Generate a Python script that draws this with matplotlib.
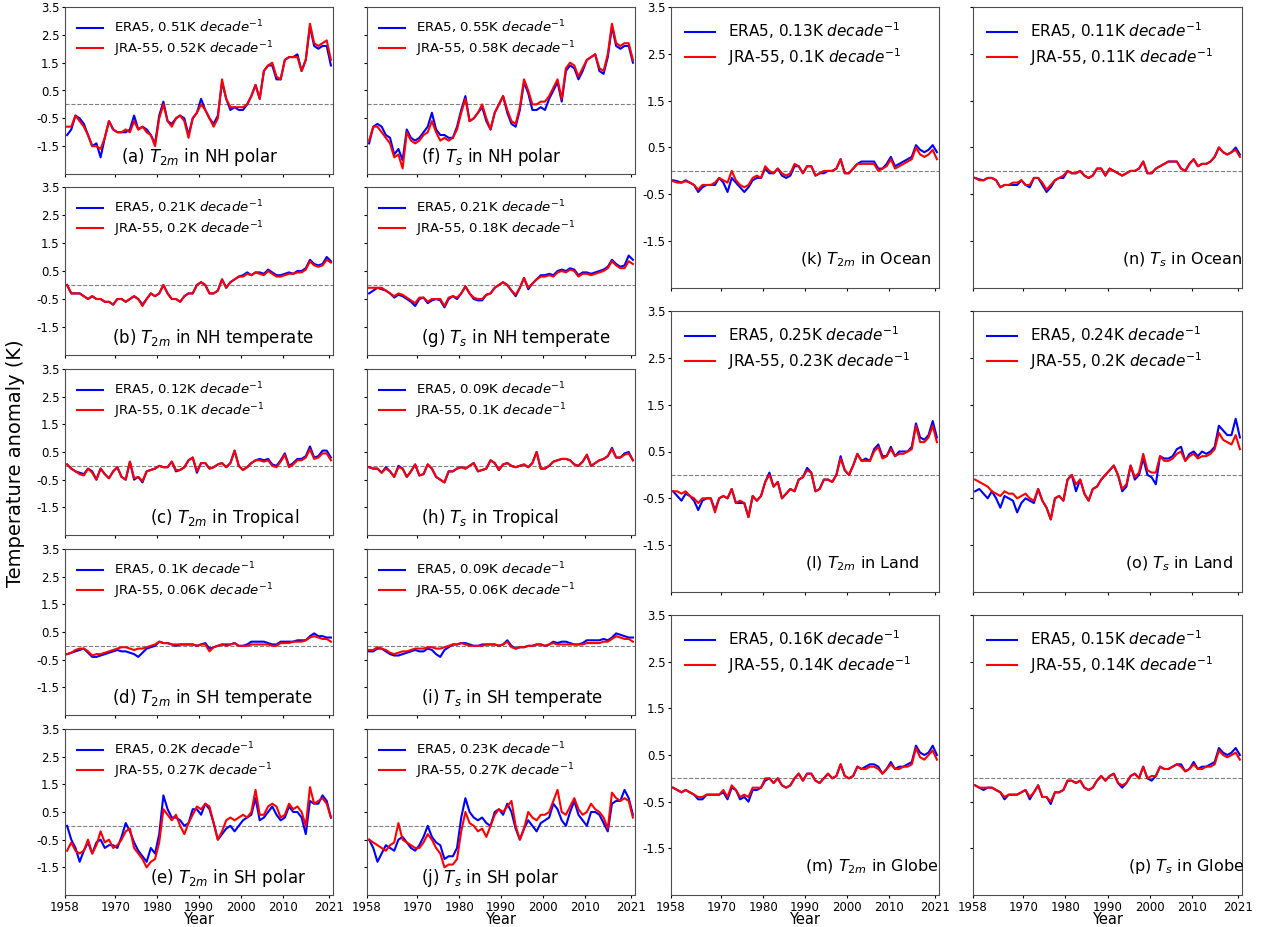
import numpy as np
import matplotlib
matplotlib.use('Agg')
import matplotlib.pyplot as plt

plt.rcParams['axes.unicode_minus'] = False

# annual values, 1958-2021
years = np.arange(1958, 2022)

era5_a = [-1.1, -0.9, -0.4, -0.5, -0.7, -1.1, -1.5, -1.4, -1.9, -1.2,
          -0.6, -0.9, -1.0, -1.0, -1.0, -0.9, -0.4, -0.9, -0.8, -0.9,
          -1.1, -1.4, -0.4, 0.1, -0.6, -0.7, -0.5, -0.4, -0.5, -1.1,
          -0.5, -0.3, 0.2, -0.2, -0.5, -0.7, -0.4, 0.8, 0.2, -0.2,
          -0.1, -0.2, -0.2, 0.0, 0.3, 0.7, 0.2, 1.2, 1.4, 1.4,
          0.9, 0.9, 1.6, 1.7, 1.7, 1.8, 1.2, 1.6, 2.8, 2.1,
          2.0, 2.1, 2.1, 1.4]
jra55_a = [-0.8, -0.8, -0.4, -0.6, -0.8, -1.1, -1.5, -1.5, -1.6, -1.2,
           -0.6, -0.9, -1.0, -1.0, -0.9, -1.0, -0.6, -0.9, -0.8, -1.0,
           -1.1, -1.5, -0.5, 0.0, -0.6, -0.8, -0.5, -0.4, -0.6, -1.2,
           -0.5, -0.3, 0.0, -0.2, -0.5, -0.8, -0.5, 0.9, 0.2, -0.1,
           -0.1, -0.1, -0.1, 0.0, 0.3, 0.7, 0.2, 1.2, 1.4, 1.5,
           1.0, 0.9, 1.6, 1.7, 1.7, 1.7, 1.2, 1.6, 2.9, 2.2,
           2.1, 2.2, 2.3, 1.6]

era5_b = [0.0, -0.3, -0.3, -0.3, -0.4, -0.5, -0.4, -0.5, -0.5, -0.6,
          -0.6, -0.7, -0.5, -0.5, -0.6, -0.5, -0.4, -0.5, -0.7, -0.5,
          -0.3, -0.4, -0.3, 0.0, -0.3, -0.5, -0.5, -0.6, -0.4, -0.3,
          -0.3, 0.0, 0.1, 0.0, -0.3, -0.3, -0.2, 0.2, -0.1, 0.1,
          0.2, 0.3, 0.35, 0.45, 0.35, 0.45, 0.45, 0.4, 0.55, 0.45,
          0.35, 0.35, 0.4, 0.45, 0.4, 0.5, 0.5, 0.6, 0.9, 0.75,
          0.7, 0.75, 1.0, 0.85]
jra55_b = [0.0, -0.3, -0.3, -0.3, -0.4, -0.5, -0.4, -0.5, -0.5, -0.6,
           -0.6, -0.7, -0.5, -0.5, -0.6, -0.5, -0.4, -0.5, -0.75, -0.5,
           -0.3, -0.4, -0.3, 0.0, -0.3, -0.5, -0.5, -0.6, -0.4, -0.3,
           -0.3, 0.0, 0.1, 0.0, -0.3, -0.3, -0.2, 0.2, -0.1, 0.1,
           0.2, 0.3, 0.3, 0.4, 0.35, 0.45, 0.4, 0.35, 0.5, 0.4,
           0.3, 0.3, 0.35, 0.4, 0.4, 0.45, 0.45, 0.55, 0.85, 0.7,
           0.65, 0.7, 0.9, 0.8]

era5_c = [0.05, -0.1, -0.2, -0.25, -0.3, -0.1, -0.2, -0.5, -0.1, -0.3,
          -0.45, -0.2, -0.05, -0.4, -0.5, 0.15, -0.5, -0.4, -0.6, -0.2,
          -0.15, -0.1, 0.0, -0.05, -0.05, 0.15, -0.2, -0.15, -0.05, 0.2,
          0.3, -0.25, 0.1, 0.1, -0.1, -0.05, 0.05, 0.1, -0.05, 0.1,
          0.55, 0.0, -0.15, -0.05, 0.1, 0.2, 0.25, 0.2, 0.25, 0.05,
          0.0, 0.2, 0.45, 0.0, 0.1, 0.25, 0.25, 0.35, 0.7, 0.3,
          0.35, 0.55, 0.55, 0.3]
jra55_c = [0.05, -0.1, -0.2, -0.3, -0.35, -0.1, -0.25, -0.5, -0.1, -0.3,
           -0.45, -0.2, -0.05, -0.4, -0.5, 0.15, -0.45, -0.4, -0.55, -0.2,
           -0.15, -0.1, 0.0, -0.05, -0.05, 0.15, -0.15, -0.15, -0.05, 0.2,
           0.3, -0.2, 0.1, 0.1, -0.1, -0.05, 0.05, 0.1, -0.05, 0.1,
           0.55, 0.0, -0.15, -0.05, 0.1, 0.2, 0.2, 0.15, 0.2, 0.0,
           -0.05, 0.15, 0.4, -0.05, 0.05, 0.2, 0.2, 0.3, 0.6, 0.25,
           0.3, 0.45, 0.45, 0.2]

era5_d = [-0.3, -0.25, -0.2, -0.15, -0.1, -0.25, -0.4, -0.4, -0.35, -0.3,
          -0.25, -0.2, -0.15, -0.2, -0.2, -0.25, -0.3, -0.4, -0.25, -0.1,
          -0.05, 0.0, 0.15, 0.1, 0.1, 0.05, 0.0, 0.05, 0.05, 0.05,
          0.05, 0.0, 0.05, 0.1, -0.1, -0.05, 0.0, 0.05, 0.05, 0.05,
          0.1, 0.0, 0.0, 0.05, 0.15, 0.15, 0.15, 0.15, 0.1, 0.05,
          0.05, 0.15, 0.15, 0.15, 0.15, 0.2, 0.2, 0.2, 0.35, 0.45,
          0.35, 0.35, 0.3, 0.3]
jra55_d = [-0.3, -0.25, -0.15, -0.1, -0.1, -0.2, -0.35, -0.3, -0.3, -0.25,
           -0.2, -0.15, -0.1, -0.05, -0.05, -0.1, -0.15, -0.1, -0.1, -0.05,
           0.0, 0.05, 0.15, 0.1, 0.1, 0.05, 0.05, 0.05, 0.05, 0.05,
           0.05, 0.0, 0.05, 0.05, -0.2, -0.05, 0.0, 0.05, 0.0, 0.05,
           0.1, 0.0, 0.0, 0.0, 0.05, 0.05, 0.05, 0.05, 0.05, 0.0,
           0.0, 0.1, 0.1, 0.1, 0.15, 0.15, 0.15, 0.2, 0.3, 0.35,
           0.3, 0.25, 0.25, 0.15]

era5_e = [0.0, -0.5, -0.8, -1.3, -0.9, -0.6, -1.0, -0.6, -0.5, -0.8,
          -0.7, -0.7, -0.8, -0.4, 0.1, -0.2, -0.6, -0.9, -1.1, -1.3,
          -0.8, -1.0, -0.3, 1.1, 0.6, 0.3, 0.3, 0.2, 0.0, 0.1,
          0.6, 0.6, 0.4, 0.8, 0.6, 0.1, -0.5, -0.3, -0.1, 0.0,
          -0.2, 0.0, 0.2, 0.3, 0.4, 1.0, 0.2, 0.3, 0.5, 0.7,
          0.4, 0.2, 0.3, 0.7, 0.5, 0.5, 0.3, -0.3, 0.9, 0.8,
          0.8, 1.1, 0.9, 0.3]
jra55_e = [-0.9, -0.6, -0.9, -1.0, -0.9, -0.5, -1.0, -0.7, -0.2, -0.6,
           -0.5, -0.8, -0.7, -0.5, -0.2, -0.1, -0.8, -1.0, -1.2, -1.5,
           -1.3, -1.2, -0.6, 0.6, 0.4, 0.2, 0.4, 0.0, -0.3, 0.1,
           0.4, 0.7, 0.6, 0.8, 0.7, 0.1, -0.5, -0.2, 0.2, 0.3,
           0.2, 0.3, 0.4, 0.3, 0.5, 1.3, 0.4, 0.4, 0.7, 0.8,
           0.7, 0.3, 0.4, 0.8, 0.6, 0.7, 0.5, 0.0, 1.4, 0.8,
           0.9, 1.0, 0.8, 0.3]

era5_f = [-1.4, -0.8, -0.7, -0.8, -1.1, -1.2, -1.8, -1.6, -2.0, -0.9,
          -1.2, -1.3, -1.2, -1.0, -0.8, -0.3, -0.9, -1.1, -1.1, -1.2,
          -1.2, -0.8, -0.2, 0.3, -0.6, -0.5, -0.3, -0.1, -0.6, -0.9,
          -0.3, 0.0, 0.3, -0.3, -0.7, -0.8, -0.2, 0.8, 0.4, -0.2,
          -0.2, -0.1, -0.2, 0.2, 0.5, 0.8, 0.1, 1.2, 1.4, 1.3,
          0.9, 1.2, 1.6, 1.7, 1.8, 1.2, 1.1, 1.7, 2.8, 2.1,
          2.0, 2.1, 2.1, 1.5]
jra55_f = [-1.3, -0.8, -0.8, -1.0, -1.2, -1.4, -1.9, -1.8, -2.3, -1.0,
           -1.3, -1.4, -1.3, -1.1, -1.0, -0.6, -1.0, -1.3, -1.2, -1.3,
           -1.2, -0.9, -0.3, 0.2, -0.6, -0.5, -0.3, 0.0, -0.5, -0.9,
           -0.3, 0.0, 0.3, -0.2, -0.6, -0.7, -0.1, 0.9, 0.5, 0.0,
           0.0, 0.1, 0.1, 0.3, 0.6, 0.9, 0.2, 1.3, 1.5, 1.4,
           1.0, 1.3, 1.6, 1.7, 1.8, 1.3, 1.2, 1.8, 2.9, 2.2,
           2.1, 2.2, 2.2, 1.6]

era5_g = [-0.3, -0.2, -0.1, -0.15, -0.2, -0.3, -0.45, -0.35, -0.4, -0.5,
          -0.6, -0.75, -0.5, -0.45, -0.65, -0.55, -0.5, -0.55, -0.8, -0.5,
          -0.4, -0.5, -0.3, -0.05, -0.3, -0.5, -0.55, -0.55, -0.35, -0.3,
          -0.1, 0.0, 0.1, 0.0, -0.2, -0.4, -0.1, 0.25, -0.15, 0.05,
          0.2, 0.35, 0.35, 0.4, 0.35, 0.5, 0.55, 0.5, 0.6, 0.55,
          0.35, 0.45, 0.45, 0.4, 0.45, 0.5, 0.55, 0.65, 0.9, 0.75,
          0.65, 0.7, 1.05, 0.9]
jra55_g = [-0.1, -0.1, -0.1, -0.1, -0.2, -0.3, -0.4, -0.3, -0.35, -0.45,
           -0.55, -0.65, -0.45, -0.45, -0.6, -0.5, -0.5, -0.5, -0.75, -0.45,
           -0.4, -0.45, -0.3, -0.05, -0.3, -0.45, -0.5, -0.5, -0.35, -0.3,
           -0.1, 0.0, 0.1, 0.0, -0.2, -0.35, -0.1, 0.25, -0.1, 0.05,
           0.2, 0.3, 0.3, 0.35, 0.3, 0.45, 0.5, 0.45, 0.55, 0.5,
           0.3, 0.4, 0.4, 0.35, 0.4, 0.45, 0.5, 0.6, 0.85, 0.7,
           0.6, 0.6, 0.85, 0.75]

era5_h = [-0.05, -0.1, -0.1, -0.25, -0.05, -0.2, -0.4, 0.0, -0.1, -0.4,
          -0.2, 0.05, -0.35, -0.3, 0.05, -0.1, -0.4, -0.5, -0.6, -0.2,
          -0.2, -0.1, -0.05, -0.1, 0.0, 0.1, -0.2, -0.15, -0.1, 0.2,
          0.1, -0.15, 0.05, 0.1, 0.0, -0.05, 0.0, 0.05, -0.05, 0.1,
          0.5, -0.1, -0.1, 0.0, 0.15, 0.2, 0.25, 0.25, 0.2, 0.05,
          0.0, 0.15, 0.4, 0.0, 0.1, 0.2, 0.25, 0.35, 0.65, 0.3,
          0.3, 0.45, 0.5, 0.2]
jra55_h = [-0.05, -0.1, -0.1, -0.25, -0.1, -0.2, -0.4, -0.05, -0.1, -0.4,
           -0.2, 0.05, -0.35, -0.3, 0.05, -0.1, -0.4, -0.5, -0.6, -0.2,
           -0.2, -0.1, -0.05, -0.1, 0.0, 0.1, -0.2, -0.15, -0.1, 0.2,
           0.1, -0.15, 0.05, 0.1, 0.0, -0.05, 0.0, 0.05, -0.05, 0.1,
           0.5, -0.1, -0.1, 0.0, 0.15, 0.2, 0.25, 0.25, 0.2, 0.05,
           0.0, 0.15, 0.4, 0.0, 0.1, 0.2, 0.25, 0.35, 0.6, 0.3,
           0.3, 0.4, 0.45, 0.2]

era5_i = [-0.2, -0.2, -0.1, -0.1, -0.2, -0.3, -0.35, -0.35, -0.3, -0.25,
          -0.2, -0.15, -0.2, -0.2, -0.1, -0.15, -0.3, -0.4, -0.15, -0.05,
          0.05, 0.05, 0.1, 0.1, 0.05, 0.0, 0.0, 0.05, 0.05, 0.05,
          0.05, 0.0, 0.05, 0.2, 0.0, -0.1, -0.05, -0.05, 0.0, 0.0,
          0.05, 0.05, 0.0, 0.05, 0.15, 0.1, 0.15, 0.15, 0.1, 0.05,
          0.05, 0.1, 0.2, 0.2, 0.2, 0.2, 0.25, 0.2, 0.3, 0.45,
          0.4, 0.35, 0.3, 0.3]
jra55_i = [-0.15, -0.15, -0.05, -0.1, -0.15, -0.25, -0.3, -0.25, -0.2, -0.2,
           -0.15, -0.1, -0.1, -0.1, -0.05, -0.05, -0.1, -0.1, -0.05, 0.0,
           0.05, 0.05, 0.1, 0.05, 0.0, 0.0, 0.0, 0.0, 0.05, 0.05,
           0.05, 0.0, 0.05, 0.15, -0.05, -0.1, -0.05, -0.05, 0.0, 0.0,
           0.05, 0.05, 0.0, 0.05, 0.1, 0.05, 0.05, 0.05, 0.05, 0.05,
           0.05, 0.05, 0.1, 0.1, 0.1, 0.1, 0.15, 0.15, 0.25, 0.35,
           0.3, 0.25, 0.25, 0.15]

era5_j = [-0.5, -0.8, -1.3, -1.0, -0.7, -0.8, -0.9, -0.5, -0.4, -0.6,
          -0.8, -0.9, -0.7, -0.4, 0.0, -0.4, -0.6, -0.7, -1.2, -1.1,
          -1.1, -0.8, 0.3, 1.0, 0.5, 0.3, 0.2, 0.3, 0.1, 0.0,
          0.5, 0.6, 0.4, 0.8, 0.5, -0.1, -0.5, -0.1, 0.2, 0.0,
          -0.2, 0.1, 0.2, 0.3, 0.8, 0.6, 0.2, 0.0, 0.5, 0.9,
          0.4, 0.2, 0.0, 0.5, 0.5, 0.4, 0.1, -0.2, 0.8, 0.9,
          0.9, 1.3, 1.0, 0.4]
jra55_j = [-0.5, -0.6, -0.7, -0.8, -0.9, -0.7, -0.6, 0.1, -0.5, -0.6,
           -0.7, -0.8, -0.8, -0.6, -0.3, -0.5, -0.8, -1.0, -1.5, -1.4,
           -1.4, -1.2, -0.2, 0.5, 0.1, 0.0, -0.2, -0.1, -0.4, 0.0,
           0.4, 0.6, 0.5, 0.7, 0.9, 0.0, -0.5, -0.1, 0.5, 0.3,
           0.2, 0.4, 0.4, 0.5, 0.9, 1.3, 0.5, 0.4, 0.7, 1.0,
           0.6, 0.4, 0.5, 0.8, 0.6, 0.5, 0.3, -0.1, 1.2, 1.0,
           0.9, 1.0, 0.9, 0.3]

era5_k = [-0.2, -0.22, -0.25, -0.2, -0.25, -0.3, -0.45, -0.35, -0.3, -0.3,
          -0.3, -0.15, -0.25, -0.45, -0.15, -0.25, -0.35, -0.45, -0.35, -0.2,
          -0.15, -0.15, 0.05, -0.05, -0.05, 0.05, -0.1, -0.15, -0.1, 0.1,
          0.1, -0.05, 0.1, 0.1, -0.1, -0.05, -0.05, 0.0, 0.0, 0.05,
          0.25, -0.05, -0.05, 0.05, 0.15, 0.2, 0.2, 0.2, 0.2, 0.05,
          0.05, 0.15, 0.3, 0.1, 0.15, 0.2, 0.25, 0.3, 0.55, 0.45,
          0.4, 0.45, 0.55, 0.4]
jra55_k = [-0.22, -0.25, -0.25, -0.22, -0.25, -0.3, -0.4, -0.3, -0.3, -0.3,
           -0.25, -0.15, -0.2, -0.25, 0.0, -0.2, -0.3, -0.35, -0.3, -0.15,
           -0.1, -0.15, 0.1, 0.0, -0.05, 0.05, -0.05, -0.1, -0.05, 0.15,
           0.1, -0.05, 0.1, 0.1, -0.1, -0.05, 0.0, 0.0, 0.0, 0.05,
           0.25, -0.05, -0.05, 0.05, 0.15, 0.15, 0.15, 0.15, 0.15, 0.0,
           0.05, 0.1, 0.25, 0.05, 0.1, 0.15, 0.2, 0.25, 0.5, 0.35,
           0.3, 0.35, 0.45, 0.25]

era5_l = [-0.35, -0.45, -0.55, -0.4, -0.45, -0.55, -0.75, -0.55, -0.5, -0.5,
          -0.75, -0.5, -0.45, -0.5, -0.3, -0.6, -0.6, -0.6, -0.9, -0.45,
          -0.55, -0.45, -0.15, 0.05, -0.25, -0.15, -0.5, -0.4, -0.3, -0.35,
          -0.1, -0.05, 0.15, 0.05, -0.35, -0.3, -0.1, -0.1, -0.15, 0.0,
          0.4, 0.1, 0.0, 0.2, 0.45, 0.3, 0.35, 0.3, 0.55, 0.65,
          0.4, 0.4, 0.6, 0.4, 0.5, 0.5, 0.5, 0.6, 1.1, 0.8,
          0.75, 0.85, 1.15, 0.8]
jra55_l = [-0.35, -0.35, -0.4, -0.35, -0.45, -0.5, -0.6, -0.5, -0.5, -0.5,
           -0.8, -0.5, -0.45, -0.5, -0.3, -0.6, -0.55, -0.6, -0.9, -0.45,
           -0.55, -0.45, -0.15, 0.0, -0.25, -0.15, -0.5, -0.4, -0.3, -0.35,
           -0.1, -0.05, 0.1, 0.05, -0.35, -0.3, -0.1, -0.1, -0.15, 0.0,
           0.35, 0.1, 0.0, 0.2, 0.45, 0.3, 0.3, 0.3, 0.5, 0.6,
           0.35, 0.4, 0.55, 0.4, 0.45, 0.45, 0.5, 0.55, 1.05, 0.7,
           0.7, 0.8, 1.05, 0.7]

era5_m = [-0.2, -0.25, -0.3, -0.25, -0.3, -0.35, -0.45, -0.45, -0.35, -0.35,
          -0.35, -0.35, -0.3, -0.45, -0.2, -0.25, -0.45, -0.4, -0.5, -0.25,
          -0.25, -0.2, -0.05, 0.0, -0.1, 0.0, -0.15, -0.2, -0.15, 0.0,
          0.1, -0.05, 0.1, 0.1, -0.05, -0.1, 0.0, 0.1, 0.0, 0.05,
          0.3, 0.05, 0.0, 0.05, 0.25, 0.2, 0.25, 0.3, 0.3, 0.25,
          0.1, 0.2, 0.35, 0.2, 0.25, 0.25, 0.3, 0.35, 0.7, 0.55,
          0.5, 0.55, 0.7, 0.5]
jra55_m = [-0.2, -0.25, -0.3, -0.25, -0.3, -0.35, -0.4, -0.4, -0.35, -0.35,
           -0.35, -0.35, -0.25, -0.4, -0.15, -0.25, -0.4, -0.35, -0.4, -0.2,
           -0.2, -0.2, 0.0, 0.0, -0.1, 0.0, -0.15, -0.2, -0.15, 0.0,
           0.1, -0.05, 0.1, 0.1, -0.05, -0.1, 0.0, 0.1, 0.0, 0.05,
           0.3, 0.05, 0.0, 0.05, 0.25, 0.2, 0.2, 0.25, 0.25, 0.2,
           0.1, 0.2, 0.3, 0.2, 0.2, 0.25, 0.25, 0.3, 0.65, 0.45,
           0.4, 0.5, 0.6, 0.4]

era5_n = [-0.15, -0.18, -0.2, -0.15, -0.15, -0.2, -0.35, -0.3, -0.3, -0.3,
          -0.3, -0.2, -0.3, -0.35, -0.15, -0.15, -0.3, -0.45, -0.35, -0.2,
          -0.15, -0.15, 0.0, -0.05, -0.05, 0.0, -0.1, -0.15, -0.1, 0.05,
          0.05, -0.1, 0.05, 0.0, -0.05, -0.1, -0.05, 0.0, 0.0, 0.05,
          0.2, -0.05, -0.05, 0.05, 0.1, 0.15, 0.2, 0.2, 0.2, 0.05,
          0.0, 0.15, 0.25, 0.1, 0.15, 0.15, 0.2, 0.3, 0.5, 0.4,
          0.35, 0.4, 0.5, 0.35]
jra55_n = [-0.15, -0.2, -0.2, -0.15, -0.15, -0.2, -0.35, -0.3, -0.3, -0.25,
           -0.25, -0.2, -0.3, -0.3, -0.15, -0.15, -0.25, -0.4, -0.3, -0.2,
           -0.15, -0.1, 0.0, -0.05, -0.05, 0.0, -0.1, -0.15, -0.1, 0.05,
           0.05, -0.1, 0.05, 0.0, -0.05, -0.1, -0.05, 0.0, 0.0, 0.05,
           0.2, -0.05, -0.05, 0.05, 0.1, 0.15, 0.2, 0.2, 0.2, 0.05,
           0.0, 0.15, 0.25, 0.1, 0.15, 0.15, 0.2, 0.3, 0.5, 0.4,
           0.35, 0.4, 0.45, 0.3]

era5_o = [-0.35, -0.3, -0.4, -0.5, -0.35, -0.5, -0.7, -0.45, -0.5, -0.55,
          -0.8, -0.6, -0.5, -0.55, -0.6, -0.3, -0.55, -0.7, -0.95, -0.5,
          -0.45, -0.55, -0.1, 0.0, -0.35, -0.1, -0.4, -0.55, -0.3, -0.25,
          -0.1, 0.0, 0.1, 0.2, 0.0, -0.35, -0.25, 0.2, -0.1, 0.0,
          0.35, 0.0, -0.05, -0.2, 0.4, 0.35, 0.35, 0.4, 0.55, 0.6,
          0.3, 0.45, 0.5, 0.4, 0.5, 0.45, 0.5, 0.6, 1.05, 0.95,
          0.85, 0.85, 1.2, 0.8]
jra55_o = [-0.1, -0.15, -0.2, -0.25, -0.35, -0.4, -0.45, -0.35, -0.4, -0.4,
           -0.5, -0.45, -0.4, -0.5, -0.55, -0.3, -0.55, -0.7, -0.95, -0.5,
           -0.45, -0.55, -0.1, 0.0, -0.2, -0.1, -0.4, -0.55, -0.3, -0.25,
           -0.1, 0.0, 0.1, 0.2, 0.0, -0.3, -0.2, 0.2, -0.05, 0.05,
           0.45, 0.1, 0.05, 0.05, 0.4, 0.3, 0.3, 0.35, 0.45, 0.5,
           0.3, 0.4, 0.45, 0.35, 0.4, 0.4, 0.45, 0.55, 0.9, 0.75,
           0.7, 0.65, 0.85, 0.55]

era5_p = [-0.15, -0.2, -0.25, -0.2, -0.2, -0.25, -0.3, -0.45, -0.35, -0.35,
          -0.35, -0.3, -0.25, -0.45, -0.3, -0.15, -0.4, -0.4, -0.55, -0.3,
          -0.3, -0.25, -0.05, -0.05, -0.1, -0.05, -0.2, -0.25, -0.2, -0.05,
          0.05, -0.05, 0.05, 0.1, -0.1, -0.2, -0.1, 0.05, 0.1, 0.0,
          0.25, 0.0, -0.05, 0.05, 0.25, 0.2, 0.2, 0.25, 0.3, 0.3,
          0.15, 0.2, 0.35, 0.2, 0.25, 0.25, 0.3, 0.35, 0.65, 0.55,
          0.5, 0.55, 0.65, 0.5]
jra55_p = [-0.15, -0.2, -0.2, -0.2, -0.2, -0.25, -0.3, -0.4, -0.35, -0.35,
           -0.35, -0.3, -0.25, -0.4, -0.3, -0.15, -0.4, -0.4, -0.5, -0.3,
           -0.3, -0.25, -0.05, -0.05, -0.1, -0.05, -0.2, -0.25, -0.2, -0.05,
           0.05, -0.05, 0.05, 0.1, -0.1, -0.15, -0.1, 0.05, 0.1, 0.0,
           0.25, 0.0, 0.05, 0.05, 0.25, 0.2, 0.2, 0.25, 0.3, 0.25,
           0.15, 0.2, 0.3, 0.2, 0.2, 0.25, 0.25, 0.3, 0.6, 0.5,
           0.45, 0.5, 0.55, 0.4]

letters = list('abcdefghijklmnop')
titles = [r'$T_{2m}$ in NH polar', r'$T_{2m}$ in NH temperate', r'$T_{2m}$ in Tropical',
          r'$T_{2m}$ in SH temperate', r'$T_{2m}$ in SH polar',
          r'$T_s$ in NH polar', r'$T_s$ in NH temperate', r'$T_s$ in Tropical',
          r'$T_s$ in SH temperate', r'$T_s$ in SH polar',
          r'$T_{2m}$ in Ocean', r'$T_{2m}$ in Land', r'$T_{2m}$ in Globe',
          r'$T_s$ in Ocean', r'$T_s$ in Land', r'$T_s$ in Globe']
era5_trend = ['0.51', '0.21', '0.12', '0.1', '0.2', '0.55', '0.21', '0.09', '0.09', '0.23',
              '0.13', '0.25', '0.16', '0.11', '0.24', '0.15']
jra55_trend = ['0.52', '0.2', '0.1', '0.06', '0.27', '0.58', '0.18', '0.1', '0.06', '0.27',
               '0.1', '0.23', '0.14', '0.11', '0.2', '0.14']
era5_all = [era5_a, era5_b, era5_c, era5_d, era5_e, era5_f, era5_g, era5_h,
            era5_i, era5_j, era5_k, era5_l, era5_m, era5_n, era5_o, era5_p]
jra55_all = [jra55_a, jra55_b, jra55_c, jra55_d, jra55_e, jra55_f, jra55_g, jra55_h,
             jra55_i, jra55_j, jra55_k, jra55_l, jra55_m, jra55_n, jra55_o, jra55_p]

W, H = 1262, 927
fig = plt.figure(figsize=(W / 100, H / 100), dpi=100)

cols = [(65, 333), (367, 635), (671, 939), (973, 1242)]
rows_small = [(7, 174), (187, 355), (369, 535), (549, 715), (729, 895)]
rows_big = [(7, 288), (311, 592), (615, 895)]
# where the panel label starts (axes fraction)
label_x = [0.21, 0.175, 0.317, 0.175, 0.317, 0.2, 0.2, 0.2, 0.2, 0.2,
           0.48, 0.5, 0.5, 0.555, 0.565, 0.575]

for k in range(16):
    if k < 10:
        c = k // 5
        r = rows_small[k % 5]
        bottom = (k % 5 == 4)
        fs_leg, fs_lab, lsp = 9.5, 12, 0.2
    else:
        c = 2 + (k - 10) // 3
        r = rows_big[(k - 10) % 3]
        bottom = ((k - 10) % 3 == 2)
        fs_leg, fs_lab, lsp = 11, 11.5, 0.3
    x0, x1 = cols[c]
    ax = fig.add_axes([x0 / W, 1 - r[1] / H, (x1 - x0) / W, (r[1] - r[0]) / H])

    ax.axhline(0, color='grey', ls='--', lw=0.8)
    ax.plot(years + 0.5, era5_all[k], color='blue', lw=1.5,
            label='ERA5, ' + era5_trend[k] + r'K $decade^{-1}$')
    ax.plot(years + 0.5, jra55_all[k], color='red', lw=1.5,
            label='JRA-55, ' + jra55_trend[k] + r'K $decade^{-1}$')
    ax.set_xlim(1958, 2022)
    ax.set_ylim(-2.5, 3.5)
    ax.set_yticks([-1.5, -0.5, 0.5, 1.5, 2.5, 3.5])
    ax.set_xticks([1958, 1970, 1980, 1990, 2000, 2010, 2021])
    ax.tick_params(labelsize=8.5, length=2.5, pad=1.5)
    if c in (1, 3):
        ax.set_yticklabels([])
    if bottom:
        ax.set_xlabel('Year', fontsize=10.5, labelpad=-1)
    else:
        ax.set_xticklabels([])
    for s in ax.spines.values():
        s.set_color('0.3')
    ax.legend(loc='upper left', frameon=False, fontsize=fs_leg, labelspacing=lsp)
    ax.text(label_x[k], 0.1, '(' + letters[k] + ') ' + titles[k], transform=ax.transAxes,
            fontsize=fs_lab, ha='left', va='center')

fig.text(0.012, 0.5, 'Temperature anomaly (K)', rotation=90, va='center', ha='center', fontsize=14)

fig.savefig('out.png', dpi=100)
